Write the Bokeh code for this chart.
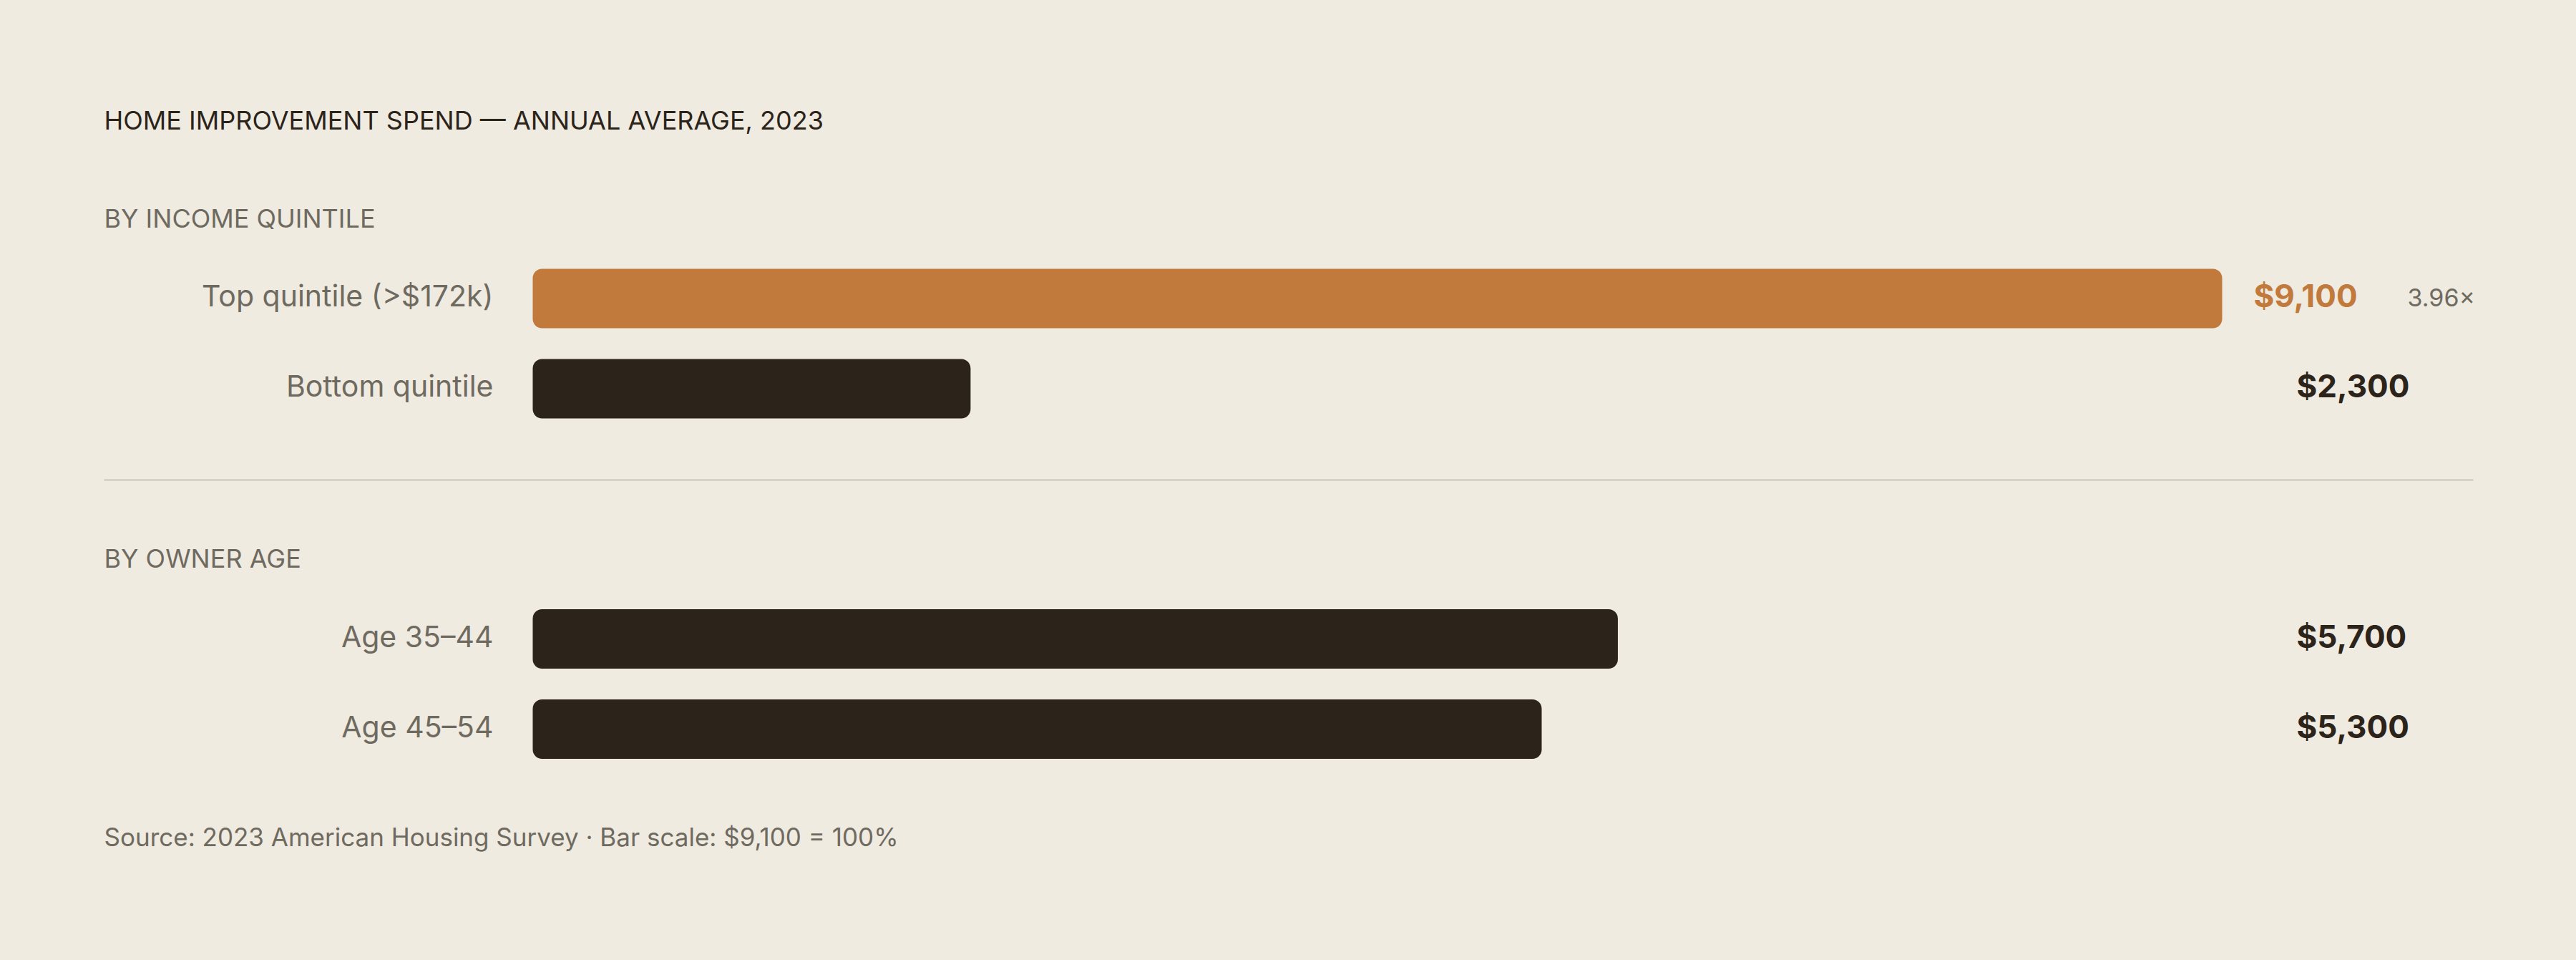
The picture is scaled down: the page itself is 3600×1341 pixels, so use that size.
from bokeh.plotting import figure
from bokeh.models import Range1d, ColumnDataSource
from bokeh.core.properties import value
from bokeh.embed import file_html
from bokeh.resources import INLINE

# ---------------- data ----------------
title_text = "HOME IMPROVEMENT SPEND — ANNUAL AVERAGE, 2023"
group_titles = ["BY INCOME QUINTILE", "BY OWNER AGE"]
income_labels = ["Top quintile (>$172k)", "Bottom quintile"]
income_values = [9100, 2300]
age_labels = ["Age 35–44", "Age 45–54"]
age_values = [5700, 5300]
scale_max = 9100
source_text = "Source: 2023 American Housing Survey · Bar scale: $9,100 = 100%"

# ---------------- style ----------------
BG = "#F0EBE1"
ORANGE = "#C17A3B"
DARK = "#2C241A"
GREY = "#6F6A5F"
SEP = "#CBC3B7"
FONT = value("Inter")

W, H = 3584, 1325
OFF_X = 0
OFF_Y = 0
TEXT_DY = -14            # correction so that text baselines land where wanted
TRACK_X0 = 744           # page px where bars start
TRACK_END = 3165         # page px where full-scale track ends (rows without ratio)
TRACK_END_RATIO = 3105   # track end for row with ratio column
VALUE_GAP = 44
LEFT, RIGHT = 145, 3456
BAR_H = 83

ppd = (TRACK_END - TRACK_X0) / scale_max  # px per dollar


def X(page_px):
    return (page_px - TRACK_X0) / ppd


def Y(page_px):
    return page_px - OFF_Y


def TY(page_px):
    return page_px - OFF_Y + TEXT_DY


p = figure(width=W, height=H, output_backend="svg", toolbar_location=None,
           x_range=Range1d(X(OFF_X), X(OFF_X + W)), y_range=Range1d(H, 0),
           x_axis_type=None, y_axis_type=None, min_border=0,
           background_fill_color=BG, border_fill_color=BG, outline_line_color=None)
p.grid.visible = False

# rows
row_labels = income_labels + age_labels
row_values = income_values + age_values
row_centers = [416.5, 542.5, 892, 1018]
has_ratio = [True, False, False, False]
ratio = income_values[0] / income_values[1]

rights, colors, val_x, val_colors = [], [], [], []
for i, v in enumerate(row_values):
    end = TRACK_END_RATIO if has_ratio[i] else TRACK_END
    frac = (end - TRACK_X0) / (TRACK_END - TRACK_X0)
    rights.append(v * frac)
    colors.append(ORANGE if i == 0 else DARK)
    val_x.append(X(end + VALUE_GAP))
    val_colors.append(ORANGE if i == 0 else DARK)

src = ColumnDataSource(dict(
    y=[Y(c) for c in row_centers], right=rights, color=colors,
    label=row_labels, ly=[TY(c + 10) for c in row_centers],
    vx=val_x, vtext=[f"${v:,.0f}" for v in row_values], vcolor=val_colors,
))

p.hbar(y="y", left=0, right="right", height=BAR_H, fill_color="color",
       line_color=None, source=src, border_radius=13)

p.text(x=X(689), y="ly", text="label", source=src, text_font=FONT,
       text_font_size="41px", text_align="right", text_baseline="alphabetic",
       text_color=GREY)

p.text(x="vx", y="ly", text="vtext", source=src, text_font=FONT,
       text_font_size="44px", text_font_style="bold", text_align="left",
       text_baseline="alphabetic", text_color="vcolor")

# ratio
p.text(x=[X(3364)], y=[TY(row_centers[0] + 12)], text=[f"{ratio:.2f}×"],
       text_font=FONT, text_font_size="34px", text_align="left",
       text_baseline="alphabetic", text_color=GREY)

# title, group headers, source
p.text(x=[X(LEFT)], y=[TY(181)], text=[title_text], text_font=FONT,
       text_font_size="36px", text_align="left", text_baseline="alphabetic",
       text_color=DARK)
p.text(x=[X(LEFT), X(LEFT)], y=[TY(318), TY(793)], text=group_titles,
       text_font=FONT, text_font_size="36px", text_align="left",
       text_baseline="alphabetic", text_color=GREY)
p.text(x=[X(LEFT)], y=[TY(1182)], text=[source_text], text_font=FONT,
       text_font_size="35px", text_align="left", text_baseline="alphabetic",
       text_color=GREY)

# separator
p.segment(x0=[X(LEFT)], x1=[X(RIGHT)], y0=[Y(670)], y1=[Y(670)],
          line_color=SEP, line_width=2)

html = file_html(p, INLINE)
html = html.replace("</head>", "<style>html,body{background:%s;}</style></head>" % BG, 1)
open("out.html", "w").write(html)
